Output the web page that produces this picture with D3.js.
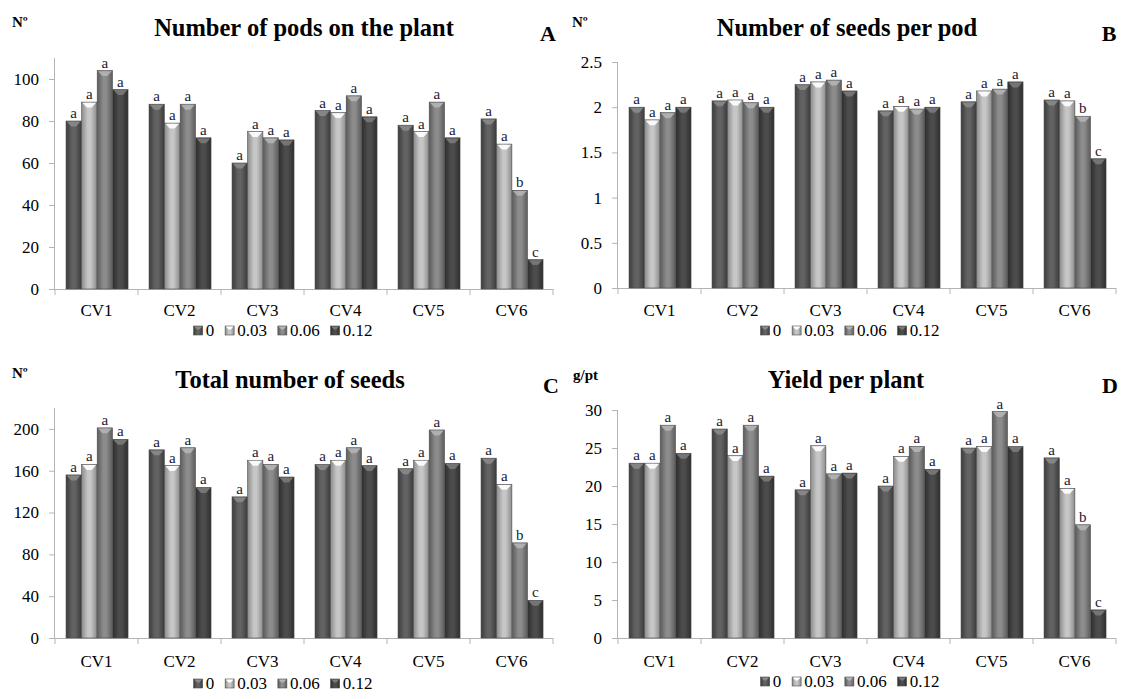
<!DOCTYPE html>
<html><head><meta charset="utf-8">
<script src="https://cdn.jsdelivr.net/npm/d3@7"></script>
<style>
body{margin:0;background:#fff}
svg{display:block}
</style></head>
<body><svg id="chart" width="1123" height="699"></svg>
<script>
// ---------- DATA ----------
const categories = ["CV1","CV2","CV3","CV4","CV5","CV6"];
const series = ["0","0.03","0.06","0.12"];

const podsValues = [[80,89,104,95],[88,79,88,72],[60,75,72,71],[85,84,92,82],[78,75,89,72],[81,69,47,14]];
const podsLetters = [["a","a","a","a"],["a","a","a","a"],["a","a","a","a"],["a","a","a","a"],["a","a","a","a"],["a","a","b","c"]];
const podsTicks = [0,20,40,60,80,100];

const seedsPodValues = [[2.0,1.86,1.94,2.0],[2.07,2.08,2.05,2.0],[2.25,2.28,2.3,2.18],[1.96,2.01,1.98,2.0],[2.06,2.18,2.2,2.28],[2.08,2.07,1.9,1.43]];
const seedsPodLetters = [["a","a","a","a"],["a","a","a","a"],["a","a","a","a"],["a","a","a","a"],["a","a","a","a"],["a","a","b","c"]];
const seedsPodTicks = [0,0.5,1,1.5,2,2.5];

const totalSeedsValues = [[156,166,201,190],[180,165,182,144],[135,170,166,154],[166,170,182,165],[162,170,199,167],[172,147,91,36]];
const totalSeedsLetters = [["a","a","a","a"],["a","a","a","a"],["a","a","a","a"],["a","a","a","a"],["a","a","a","a"],["a","a","b","c"]];
const totalSeedsTicks = [0,40,80,120,160,200];

const yieldValues = [[23,23,28,24.3],[27.5,24,28,21.3],[19.5,25.3,21.6,21.7],[20,23.9,25.2,22.2],[25,25.2,29.8,25.2],[23.7,19.7,14.9,3.7]];
const yieldLetters = [["a","a","a","a"],["a","a","a","a"],["a","a","a","a"],["a","a","a","a"],["a","a","a","a"],["a","a","b","c"]];
const yieldTicks = [0,5,10,15,20,25,30];

// ---------- LAYOUT / STYLE ----------
const FONT = '"Liberation Serif"';
const panels = [
  {title:"Number of pods on the plant", tag:"A", unit:"Nº", values:podsValues, letters:podsLetters, ticks:podsTicks, max:110,
   left:55, right:553, y0:289, y1:58, titleX:304, titleY:36, tagX:548, unitX:12, unitY:27, legendX:283, legendY:336, catY:316},
  {title:"Number of seeds per pod", tag:"B", unit:"Nº", values:seedsPodValues, letters:seedsPodLetters, ticks:seedsPodTicks, max:2.5,
   left:618, right:1116, y0:288, y1:62, titleX:847, titleY:36, tagX:1109, unitX:572, unitY:27, legendX:850, legendY:336, catY:316},
  {title:"Total number of seeds", tag:"C", unit:"Nº", values:totalSeedsValues, letters:totalSeedsLetters, ticks:totalSeedsTicks, max:220,
   left:55, right:553, y0:638, y1:408, titleX:290, titleY:388, tagX:551, unitX:12, unitY:378, legendX:283, legendY:689, catY:667},
  {title:"Yield per plant", tag:"D", unit:"g/pt", values:yieldValues, letters:yieldLetters, ticks:yieldTicks, max:30,
   left:618, right:1116, y0:638, y1:410, titleX:846, titleY:388, tagX:1110, unitX:573, unitY:380, legendX:850, legendY:687, catY:667}
];
const seriesStyle = [
  {edge:"#3c3c3c", mid:"#626262", top:"#8a8a8a"},
  {edge:"#8c8c8c", mid:"#c6c6c6", top:"#ffffff"},
  {edge:"#5c5c5c", mid:"#8c8c8c", top:"#b4b4b4"},
  {edge:"#2e2e2e", mid:"#4c4c4c", top:"#7a7a7a"}
];

const svg = d3.select("#chart");
const defs = svg.append("defs");
seriesStyle.forEach((s,i)=>{
  const g = defs.append("linearGradient").attr("id","g"+i).attr("x1","0").attr("x2","1").attr("y1","0").attr("y2","0");
  g.append("stop").attr("offset","0").attr("stop-color",s.edge);
  g.append("stop").attr("offset","0.4").attr("stop-color",s.mid);
  g.append("stop").attr("offset","0.6").attr("stop-color",s.mid);
  g.append("stop").attr("offset","1").attr("stop-color",s.edge);
});

panels.forEach(p=>{
  const g = svg.append("g");
  const x0 = d3.scaleBand().domain(categories).range([p.left,p.right]);
  const bw = x0.bandwidth();
  const x1 = d3.scaleBand().domain(series).range([bw*0.133, bw*0.88]).paddingInner(0.02);
  const y = d3.scaleLinear().domain([0,p.max]).range([p.y0,p.y1]);

  // y axis
  const ya = g.append("g").attr("transform",`translate(${p.left},0)`)
    .call(d3.axisLeft(y).tickValues(p.ticks).tickSize(6).tickPadding(10).tickFormat(d=>d3.format("")(d)));
  ya.attr("font-family", null).attr("font-size", null);
  ya.select(".domain").attr("stroke","#b4b4b4").attr("d",`M-0.5,${p.y1}V${p.y0}`);
  ya.selectAll(".tick line").attr("stroke","#b4b4b4");
  ya.selectAll("text").attr("font-size",17).attr("fill","#000").style("font-family",FONT);

  // x axis
  const xa = g.append("g").attr("transform",`translate(0,${p.y0})`);
  xa.append("line").attr("x1",p.left).attr("x2",p.right).attr("y1",0.5).attr("y2",0.5).attr("stroke","#b4b4b4");
  xa.selectAll("line.tk").data(d3.range(categories.length+1)).enter().append("line")
    .attr("x1",i=>p.left+i*x0.step()).attr("x2",i=>p.left+i*x0.step()).attr("y1",0).attr("y2",6).attr("stroke","#b4b4b4");
  g.selectAll("text.cat").data(categories).enter().append("text")
    .attr("x",d=>x0(d)+bw/2).attr("y",p.catY).attr("text-anchor","middle").attr("font-size",17)
    .style("font-family",FONT).text(d=>d);

  // bars
  categories.forEach((c,ci)=>{
    series.forEach((s,si)=>{
      const v = p.values[ci][si];
      const bx = x0(c)+x1(s), w = x1.bandwidth(), by = y(v), h = p.y0-by;
      g.append("rect").attr("x",bx).attr("y",by).attr("width",w).attr("height",h)
        .attr("fill",`url(#g${si})`).attr("stroke","#4a4a4a").attr("stroke-width",0.6);
      g.append("path").attr("d",`M${bx+0.8},${by+0.6}H${bx+w-0.8}L${bx+w/2+2.5},${by+5.5}H${bx+w/2-2.5}Z`)
        .attr("fill",seriesStyle[si].top).attr("opacity",0.9);
      g.append("text").attr("x",bx+w/2).attr("y",by-3).attr("text-anchor","middle")
        .attr("font-size",15).attr("fill","#1a1a33").style("font-family",FONT).text(p.letters[ci][si]);
    });
  });

  // titles
  g.append("text").attr("x",p.titleX).attr("y",p.titleY).attr("text-anchor","middle")
    .attr("font-size",24.5).attr("font-weight","bold").style("font-family",FONT).text(p.title);
  g.append("text").attr("x",p.tagX).attr("y",p.titleY+5).attr("text-anchor","middle")
    .attr("font-size",22).attr("font-weight","bold").style("font-family",FONT).text(p.tag);
  g.append("text").attr("x",p.unitX).attr("y",p.unitY)
    .attr("font-size",15).attr("font-weight","bold").style("font-family",FONT).text(p.unit);

  // legend
  const lg = g.append("g");
  let cx = 0;
  series.forEach((s,si)=>{
    const it = lg.append("g");
    it.append("rect").attr("x",0).attr("y",-10).attr("width",9).attr("height",9)
      .attr("fill",`url(#g${si})`).attr("stroke","#4a4a4a").attr("stroke-width",0.6);
    it.append("path").attr("d","M0.5,-9.5H8.5L5.5,-6.5H3.5Z").attr("fill",seriesStyle[si].top);
    const t = it.append("text").attr("x",12).attr("y",0).attr("font-size",17).style("font-family",FONT).text(s);
    const wdt = 12 + t.node().getComputedTextLength();
    it.attr("transform",`translate(${cx},0)`);
    cx += wdt + 11;
  });
  const total = cx - 11;
  lg.attr("transform",`translate(${p.legendX - total/2},${p.legendY})`);
});
</script></body></html>
